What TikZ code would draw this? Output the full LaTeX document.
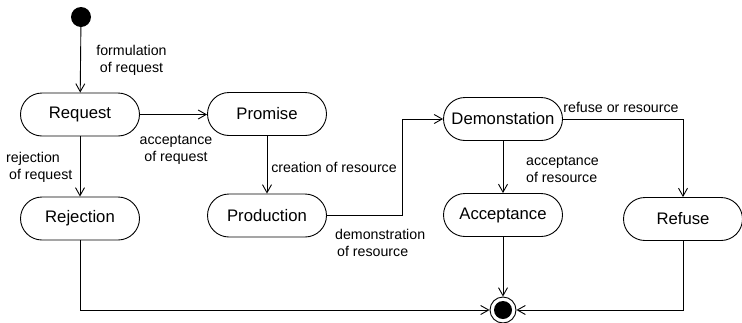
\documentclass[tikz,border=0pt]{standalone}
\usepackage{fontspec}
\setmainfont{Liberation Sans}
\usetikzlibrary{arrows.meta}
\tikzset{
  state/.style={draw, line width=0.9pt, rectangle, rounded corners=21.5pt, minimum width=119pt, minimum height=43pt, inner sep=0pt, font=\fontsize{16.7}{20}\selectfont},
  lbl/.style={inner sep=0pt, font=\fontsize{14.2}{17}\selectfont},
  arr/.style={draw, line width=0.9pt, -{Straight Barb[length=8pt,width=9pt]}},
}
\begin{document}
\begin{tikzpicture}[x=1pt,y=-1pt]
\useasboundingbox (0,0) rectangle (742,322);
\node[circle, fill=black, minimum size=20pt, inner sep=0pt] (start) at (81,17) {};
\node[state] (req) at (80,114.5) {Request};
\node[state] (pro) at (267,114) {Promise};
\node[state] (rej) at (80,218.5) {Rejection};
\node[state] (prod) at (267,215.5) {Production};
\node[state] (dem) at (503,119) {Demonstation};
\node[state] (acc) at (503,215) {Acceptance};
\node[state] (ref) at (683,219) {Refuse};
\node[circle, draw, line width=0.9pt, fill=white, minimum size=26pt, inner sep=0pt] (end) at (503,310) {};
\fill (end.center) circle (9pt);

\draw[arr] (start) -- (req);
\draw[arr] (req.east) -- (pro.west |- req.east);
\draw[arr] (req) -- (rej);
\draw[arr] (pro) -- (prod);
\draw[arr] (prod.east) -| ([xshift=-41pt]dem.west) -- (dem.west);
\draw[arr] (dem) -- (acc);
\draw[arr] (dem.east) -| (ref.north);
\draw[arr] (rej.south) |- (end.west);
\draw[arr] (acc.south) -- (end.north);
\draw[arr] (ref.south) |- (end.east);

\node[lbl, align=center] (l1) at (131.5,60.5) {formulation\\of request};
\node[lbl, align=center] (l2) at (176,150) {acceptance\\of request};
\node[lbl, align=left, anchor=west] (l3) at (6,167) {rejection\\\hspace*{3pt}of request};
\node[lbl] (l4) at (334,167) {creation of resource};
\node[lbl, align=left, anchor=west] (l5) at (335,243) {demonstration\\\hspace*{2pt}of resource};
\node[lbl, align=left, anchor=west] (l6) at (526,169) {acceptance\\of resource};
\node[lbl] (l7) at (621,107) {refuse or resource};
\end{tikzpicture}
\end{document}
